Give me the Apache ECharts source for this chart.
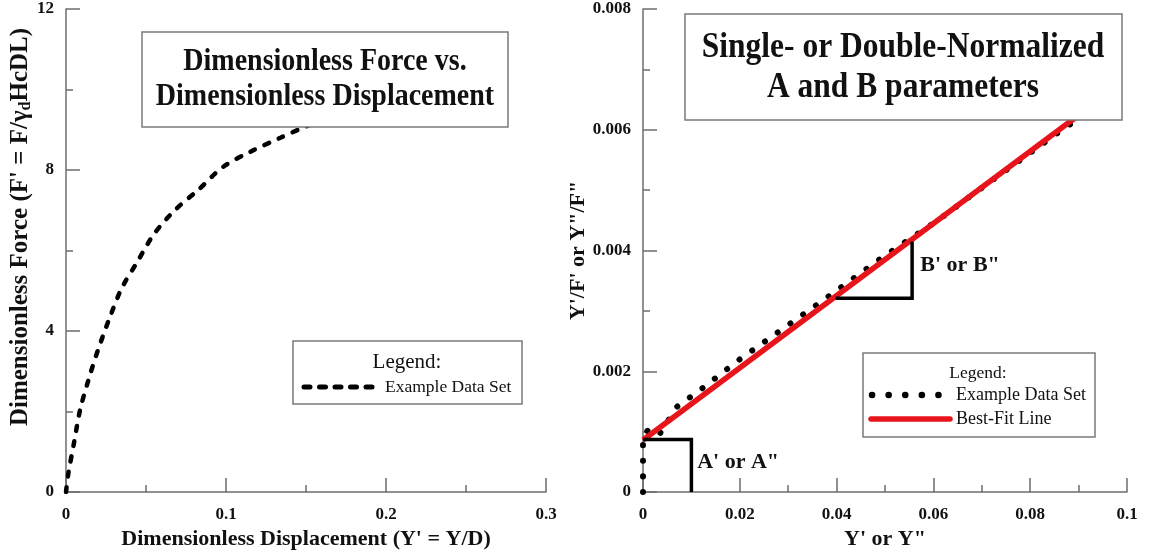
<!DOCTYPE html>
<html>
<head>
<meta charset="utf-8">
<script src="https://cdn.jsdelivr.net/npm/echarts@6/dist/echarts.min.js"></script>
<style>html,body{margin:0;padding:0;background:#fff}#c{width:1149px;height:552px}</style>
</head>
<body>
<div id="c"></div>
<script>
// ---- Left chart: dimensionless force vs displacement ----
const forceX = [0, 0.0015, 0.005, 0.0088, 0.014, 0.020, 0.0275, 0.0348, 0.0446, 0.055, 0.068, 0.0833, 0.0983, 0.1156, 0.134, 0.150, 0.17, 0.2];
const forceY = [0, 0.47, 1.22, 2.04, 2.78, 3.53, 4.35, 5.06, 5.72, 6.41, 7.0, 7.53, 8.08, 8.46, 8.80, 9.08, 9.35, 9.7];
const leftXTicks = [0, 0.1, 0.2, 0.3];
const leftYTicks = [0, 4, 8, 12];

// ---- Right chart: normalized A and B parameters ----
const normX = [0, 0, 0.0012, 0.0035, 0.007, 0.0123, 0.0197, 0.0278, 0.0359, 0.0442, 0.0497, 0.0611, 0.069, 0.0771, 0.0852, 0.0877, 0.092];
const normY = [0, 0.0009, 0.00105, 0.00097, 0.00141, 0.00172, 0.00218, 0.00264, 0.0031, 0.00358, 0.0039, 0.00451, 0.00498, 0.00545, 0.00592, 0.00606, 0.0063];
const fitX = [0, 0.092];
const fitY = [0.00086, 0.00636];
const triAX = [0, 0.01, 0.01];
const triAY = [0.00087, 0.00087, 0];
const triBX = [0.0398, 0.0556, 0.0556];
const triBY = [0.00321, 0.00321, 0.00415];
const rightXTicks = [0, 0.02, 0.04, 0.06, 0.08, 0.1];
const rightYTicks = [0, 0.002, 0.004, 0.006, 0.008];
const labelA = [0.0112, 0.000486, "A' or A\""];
const labelB = [0.0573, 0.00376, "B' or B\""];

const SERIF = '"Liberation Serif", "Times New Roman", serif';
const AX = '#6e6e6e';
const zip = (a, b) => a.map((v, i) => [v, b[i]]);

function axisBase(min, max, interval) {
  return {
    type: 'value', min, max, interval,
    axisLine: { show: true, onZero: false, lineStyle: { color: AX, width: 1.5 } },
    axisTick: { show: true, inside: true, length: 14, lineStyle: { color: AX, width: 1.5 } },
    minorTick: { show: true, splitNumber: 2, length: 7, lineStyle: { color: AX, width: 1.5 } },
    splitLine: { show: false },
    axisLabel: { color: '#111', fontFamily: SERIF, fontWeight: 'bold', fontSize: 17, margin: 12 },
    nameLocation: 'middle',
    nameTextStyle: { color: '#111', fontFamily: SERIF, fontWeight: 'bold', fontSize: 22 }
  };
}

const chart = echarts.init(document.getElementById('c'));

const xL = axisBase(0, 0.3, 0.1);
xL.gridIndex = 0; xL.name = "Dimensionless Displacement (Y' = Y/D)"; xL.nameGap = 28;
xL.axisLabel.margin = 14;
xL.axisLabel.formatter = v => String(+v.toFixed(4));
const yL = axisBase(0, 12, 4);
yL.gridIndex = 0; yL.name = '';
yL.axisLabel.formatter = v => String(v);
const xR = axisBase(0, 0.1, 0.02);
xR.gridIndex = 1; xR.name = "Y' or Y\""; xR.nameGap = 28;
xR.axisLabel.margin = 14;
xR.axisLabel.formatter = v => String(+v.toFixed(4));
const yR = axisBase(0, 0.008, 0.002);
yR.gridIndex = 1; yR.name = "Y'/F' or Y\"/F\""; yR.nameGap = 54;
yR.axisLabel.formatter = v => (+v.toFixed(4)) === 0 ? '0' : (+v).toFixed(3);

const titleStyle = (text, size) => ({ text, x: 0, y: 0, font: 'bold ' + size + 'px ' + SERIF, fill: '#111', align: 'center', verticalAlign: 'middle' });

const graphics = [
  // left y-axis name (with subscript)
  { type: 'text', z: 50, x: 21, y: 227, rotation: Math.PI / 2,
    style: { text: "Dimensionless Force (F' = F/γ{sub|d}HcDL)", x: 0, y: 0, fontFamily: SERIF, fontWeight: 'bold', fontSize: 25, fill: '#111', align: 'center', verticalAlign: 'middle',
      rich: { sub: { fontFamily: SERIF, fontWeight: 'bold', fontSize: 16, fill: '#111', verticalAlign: 'bottom', padding: [8, 0, 0, 0] } } } },
  // left title box
  { type: 'rect', z: 100, shape: { x: 142, y: 32, width: 366, height: 95 }, style: { fill: '#fff', stroke: '#7a7a7a', lineWidth: 1.5 } },
  { type: 'text', z: 101, x: 325, y: 62, scaleY: 1.15, style: titleStyle('Dimensionless Force vs.', 28) },
  { type: 'text', z: 101, x: 325, y: 97, scaleY: 1.15, style: titleStyle('Dimensionless Displacement', 28) },
  // left legend
  { type: 'rect', z: 100, shape: { x: 293, y: 341, width: 229, height: 63 }, style: { fill: '#fff', stroke: '#7a7a7a', lineWidth: 1.5 } },
  { type: 'text', z: 101, style: { text: 'Legend:', x: 407, y: 362, font: '21px ' + SERIF, fill: '#111', align: 'center', verticalAlign: 'middle' } },
  { type: 'line', z: 101, shape: { x1: 304, y1: 387, x2: 376, y2: 387 }, style: { stroke: '#000', lineWidth: 5, lineDash: [6, 9.5], lineCap: 'round' } },
  { type: 'text', z: 101, style: { text: 'Example Data Set', x: 385, y: 387, font: '17.5px ' + SERIF, fill: '#111', align: 'left', verticalAlign: 'middle' } },
  // right title box
  { type: 'rect', z: 100, shape: { x: 685, y: 14, width: 437, height: 106 }, style: { fill: '#fff', stroke: '#7a7a7a', lineWidth: 1.5 } },
  { type: 'text', z: 101, x: 903, y: 48, scaleY: 1.12, style: titleStyle('Single- or Double-Normalized', 31.5) },
  { type: 'text', z: 101, x: 903, y: 88, scaleY: 1.12, style: titleStyle('A and B parameters', 31.5) },
  // right legend
  { type: 'rect', z: 100, shape: { x: 863, y: 353, width: 232, height: 84 }, style: { fill: '#fff', stroke: '#7a7a7a', lineWidth: 1.5 } },
  { type: 'text', z: 101, style: { text: 'Legend:', x: 978, y: 373, font: '17.5px ' + SERIF, fill: '#111', align: 'center', verticalAlign: 'middle' } },
  { type: 'line', z: 101, shape: { x1: 872, y1: 395, x2: 940, y2: 395 }, style: { stroke: '#000', lineWidth: 6.5, lineDash: [0.1, 16.5], lineCap: 'round' } },
  { type: 'text', z: 101, style: { text: 'Example Data Set', x: 956, y: 395, font: '18px ' + SERIF, fill: '#111', align: 'left', verticalAlign: 'middle' } },
  { type: 'line', z: 101, shape: { x1: 871, y1: 419, x2: 950, y2: 419 }, style: { stroke: '#e8141b', lineWidth: 5.5, lineCap: 'round' } },
  { type: 'text', z: 101, style: { text: 'Best-Fit Line', x: 956, y: 419, font: '18px ' + SERIF, fill: '#111', align: 'left', verticalAlign: 'middle' } }
];

chart.setOption({
  animation: false,
  backgroundColor: '#fff',
  grid: [
    { left: 66, top: 9, width: 480, height: 483, containLabel: false, outerBoundsMode: 'none' },
    { left: 643, top: 9, width: 484, height: 483, containLabel: false, outerBoundsMode: 'none' }
  ],
  xAxis: [xL, xR],
  yAxis: [yL, yR],
  graphic: graphics,
  series: [
    {
      type: 'line', xAxisIndex: 0, yAxisIndex: 0, data: zip(forceX, forceY),
      showSymbol: false, smooth: 0.3,
      lineStyle: { color: '#000', width: 4.5, type: [5, 10.5], cap: 'round' }
    },
    {
      type: 'line', xAxisIndex: 1, yAxisIndex: 1, data: zip(normX, normY),
      showSymbol: false,
      lineStyle: { color: '#000', width: 6, type: [0.1, 15.5], cap: 'round' }
    },
    {
      type: 'line', xAxisIndex: 1, yAxisIndex: 1, data: zip(fitX, fitY),
      showSymbol: false,
      lineStyle: { color: '#e8141b', width: 5.5 }
    },
    {
      type: 'line', xAxisIndex: 1, yAxisIndex: 1, data: zip(triAX, triAY),
      showSymbol: false, lineStyle: { color: '#000', width: 3.5, join: 'miter' }
    },
    {
      type: 'line', xAxisIndex: 1, yAxisIndex: 1, data: zip(triBX, triBY),
      showSymbol: false, lineStyle: { color: '#000', width: 3.5, join: 'miter' }
    },
    {
      type: 'scatter', xAxisIndex: 1, yAxisIndex: 1, symbolSize: 0,
      itemStyle: { opacity: 1 },
      data: [labelA, labelB].map(d => ({ value: [d[0], d[1]], name: d[2] })),
      label: {
        show: true, position: 'right', distance: 0, formatter: p => p.name, opacity: 1,
        fontFamily: SERIF, fontWeight: 'bold', fontSize: 22, color: '#111'
      }
    }
  ]
});
</script>
</body>
</html>
